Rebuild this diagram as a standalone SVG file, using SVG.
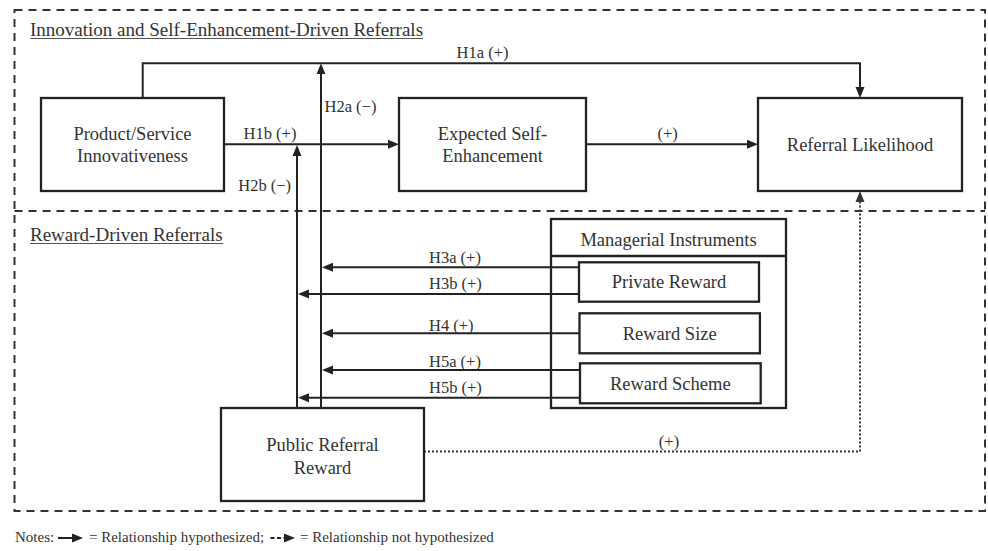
<svg xmlns="http://www.w3.org/2000/svg" width="988" height="551" viewBox="0 0 988 551">
  <style>
    text { font-family: "Liberation Serif", "Times New Roman", serif; fill: #333; }
    .box { fill: #fff; stroke: #222; stroke-width: 2.3; }
    .frame { fill: none; stroke: #222; stroke-width: 2.3; }
    .node { font-size: 18.5px; text-anchor: middle; }
    .lbl { font-size: 16.5px; }
    .head { font-size: 19px; }
    .note { font-size: 15px; }
    .conn { fill: none; stroke: #222; stroke-width: 2; }
    .dot { fill: none; stroke: #333; stroke-width: 2; stroke-dasharray: 2 2; }
    .region { fill: none; stroke: #333; stroke-width: 2; stroke-dasharray: 8 6; }
    .ul { stroke: #555; stroke-width: 1.2; }
  </style>
  <defs>
    <marker id="arr" markerUnits="userSpaceOnUse" markerWidth="11" markerHeight="10" refX="5" refY="5" orient="auto">
      <path d="M0,0.5 L11,5 L0,9.5 z" fill="#222"/>
    </marker>
    <marker id="arrDot" markerUnits="userSpaceOnUse" markerWidth="11" markerHeight="10" refX="5" refY="5" orient="auto">
      <path d="M0,0.5 L11,5 L0,9.5 z" fill="#333"/>
    </marker>
  </defs>

  <rect width="988" height="551" fill="#fff"/>

  <g id="regions">
    <path class="region" d="M14.5,10 H985 V511 H14.5 Z"/>
    <path class="region" d="M14.5,211 H985"/>
    <text class="head" x="30" y="36">Innovation and Self-Enhancement-Driven Referrals</text>
    <line class="ul" x1="30" y1="38.5" x2="423" y2="38.5"/>
    <text class="head" x="30" y="241">Reward-Driven Referrals</text>
    <line class="ul" x1="30" y1="243.5" x2="223" y2="243.5"/>
  </g>

  <g id="connectors">
    <path class="conn" d="M142.7,98 V63.3 H860 V92" marker-end="url(#arr)"/>
    <path class="conn" d="M321,408 V69.3" marker-end="url(#arr)"/>
    <path class="conn" d="M224,144.3 H393" marker-end="url(#arr)"/>
    <path class="conn" d="M297,408 V151" marker-end="url(#arr)"/>
    <path class="conn" d="M586,144.3 H752" marker-end="url(#arr)"/>
    <path class="conn" d="M579,267.3 H328" marker-end="url(#arr)"/>
    <path class="conn" d="M579,294 H304" marker-end="url(#arr)"/>
    <path class="conn" d="M579.5,333.3 H328" marker-end="url(#arr)"/>
    <path class="conn" d="M580,370 H328" marker-end="url(#arr)"/>
    <path class="conn" d="M580,397.7 H304" marker-end="url(#arr)"/>
    <path class="dot" d="M424,451.5 H860 V197" marker-end="url(#arrDot)"/>
    <text class="lbl" x="482.5" y="57.5" text-anchor="middle">H1a (+)</text>
    <text class="lbl" x="324.5" y="112">H2a (−)</text>
    <text class="lbl" x="270" y="139" text-anchor="middle">H1b (+)</text>
    <text class="lbl" x="264.7" y="190.7" text-anchor="middle">H2b (−)</text>
    <text class="lbl" x="667.7" y="139" text-anchor="middle">(+)</text>
    <text class="lbl" x="429" y="263">H3a (+)</text>
    <text class="lbl" x="429" y="289">H3b (+)</text>
    <text class="lbl" x="429" y="330.7">H4 (+)</text>
    <text class="lbl" x="429" y="366.5">H5a (+)</text>
    <text class="lbl" x="429" y="393">H5b (+)</text>
    <text class="lbl" x="669" y="447" text-anchor="middle">(+)</text>
  </g>

  <g id="innovativeness">
    <rect class="box" x="41" y="98" width="183" height="93"/>
    <text class="node" x="132.5" y="139.5">Product/Service</text>
    <text class="node" x="132.5" y="162">Innovativeness</text>
  </g>

  <g id="self-enhancement">
    <rect class="box" x="399" y="98" width="187" height="93"/>
    <text class="node" x="492.5" y="139.5">Expected Self-</text>
    <text class="node" x="492.5" y="162">Enhancement</text>
  </g>

  <g id="referral-likelihood">
    <rect class="box" x="758" y="98" width="204" height="93"/>
    <text class="node" x="860" y="150.5">Referral Likelihood</text>
  </g>

  <g id="managerial-instruments">
    <rect class="frame" x="551" y="219" width="235" height="189"/>
    <line x1="551" y1="256" x2="786" y2="256" stroke="#222" stroke-width="2.3"/>
    <text class="node" x="668.5" y="245.5">Managerial Instruments</text>
  </g>

  <g id="private-reward">
    <rect class="box" x="579" y="262.3" width="180" height="39.4"/>
    <text class="node" x="669" y="288">Private Reward</text>
  </g>

  <g id="reward-size">
    <rect class="box" x="579.5" y="313.3" width="180.4" height="40"/>
    <text class="node" x="669.7" y="339.5">Reward Size</text>
  </g>

  <g id="reward-scheme">
    <rect class="box" x="580" y="363.3" width="180.7" height="40"/>
    <text class="node" x="670.3" y="389.5">Reward Scheme</text>
  </g>

  <g id="public-referral-reward">
    <rect class="box" x="221" y="408" width="203" height="93"/>
    <text class="node" x="322.5" y="450.5">Public Referral</text>
    <text class="node" x="322.5" y="473.5">Reward</text>
  </g>

  <g id="notes">
    <text class="note" x="15" y="542">Notes:</text>
    <path class="conn" d="M58,538 H77" stroke-width="2.5" marker-end="url(#arr)"/>
    <text class="note" x="89" y="542">= Relationship hypothesized;</text>
    <path class="conn" d="M270.5,538 H289" stroke-width="2.5" stroke-dasharray="4 2.5" marker-end="url(#arr)"/>
    <text class="note" x="300" y="542">= Relationship not hypothesized</text>
  </g>
</svg>
